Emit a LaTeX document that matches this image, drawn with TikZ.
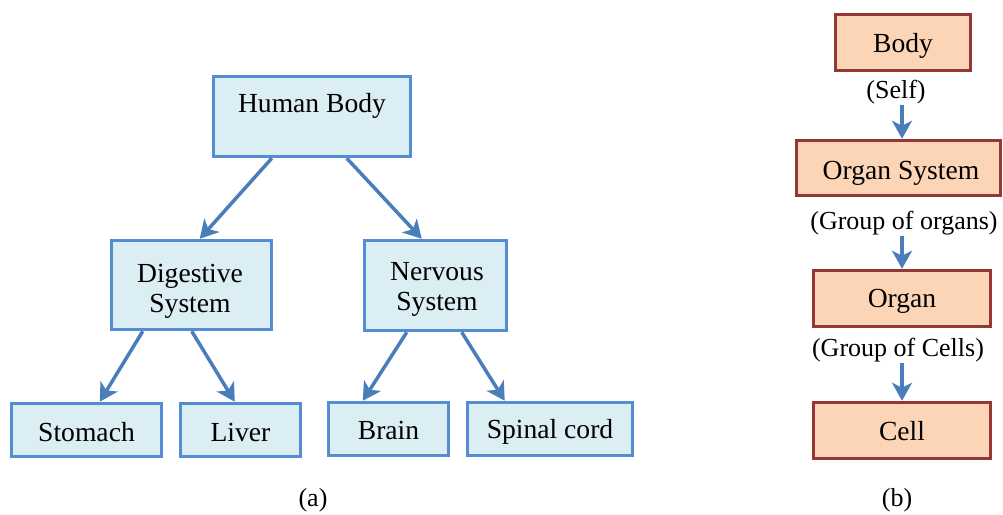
\documentclass[tikz,border=0pt]{standalone}
\usepackage{fontspec}
\setmainfont{Liberation Serif}
\usetikzlibrary{arrows.meta,calc}
\definecolor{lbline}{RGB}{84,141,212}
\definecolor{lbfill}{RGB}{219,238,244}
\definecolor{arrblue}{RGB}{74,126,187}
\definecolor{pkfill}{RGB}{251,213,181}
\definecolor{pkline}{RGB}{149,55,53}
\tikzset{
  bluebox/.style={draw=lbline, fill=lbfill, line width=3.5pt, inner sep=0pt},
  peachbox/.style={draw=pkline, fill=pkfill, line width=3.5pt, inner sep=0pt},
  txt/.style={inner sep=0pt, align=center, font=\fontsize{27.6}{30}\selectfont},
  note/.style={inner sep=0pt, font=\fontsize{26}{28}\selectfont},
  arr/.style={draw=arrblue, line width=3.5pt, -{Stealth[length=18pt,width=20pt,inset=5pt]}}
}
\begin{document}
\begin{tikzpicture}[x=1pt,y=-1pt]
\useasboundingbox (0,0) rectangle (1003,514);

% ---- (a) tree of the human body ----
\node[bluebox, minimum width=197pt, minimum height=80pt] (hb) at (312,116.5) {};
\node[txt] (hbt) at (312,106) {Human Body};

\node[bluebox, minimum width=160pt, minimum height=89pt] (ds) at (191.5,285) {};
\node[txt] (dst) at (190,291) {Digestive\\System};

\node[bluebox, minimum width=142pt, minimum height=90pt] (ns) at (435.5,285.5) {};
\node[txt] (nst) at (437,289) {Nervous\\System};

\node[bluebox, minimum width=150pt, minimum height=53pt] (st) at (86.5,430) {};
\node[txt] (stt) at (86.5,432) {Stomach};
\node[bluebox, minimum width=120pt, minimum height=53pt] (lv) at (240.5,430) {};
\node[txt] (lvt) at (240.5,432) {Liver};
\node[bluebox, minimum width=120pt, minimum height=53pt] (br) at (388.5,429) {};
\node[txt] (brt) at (388.5,430) {Brain};
\node[bluebox, minimum width=165pt, minimum height=53pt] (sc) at (550,429) {};
\node[txt] (sct) at (550,432) {Spinal cord};

\draw[arr] ($(hb.south west)+(60,0)$) -- ($(ds.north west)+(90,0)$);
\draw[arr] ($(hb.south west)+(135,0)$) -- ($(ns.north west)+(59,0)$);
\draw[arr] ($(ds.south west)+(33,0)$) -- ($(st.north west)+(90,0)$);
\draw[arr] ($(ds.south west)+(82,0)$) -- ($(lv.north west)+(56,0)$);
\draw[arr] ($(ns.south west)+(44,0)$) -- ($(br.north west)+(36,0)$);
\draw[arr] ($(ns.south west)+(99,0)$) -- ($(sc.north west)+(39,0)$);

\node[note] (capa) at (313,500) {(a)};

% ---- (b) levels of organisation ----
\node[peachbox, minimum width=135pt, minimum height=56pt] (body) at (903,42.5) {};
\node[txt] (bodyt) at (903,46) {Body};
\node[note] (self) at (896,92) {(Self)};

\node[peachbox, minimum width=204pt, minimum height=55pt] (os) at (898.5,168) {};
\node[txt] (ost) at (901,173) {Organ System};
\node[note] (grorg) at (904,223) {(Group of organs)};

\node[peachbox, minimum width=177pt, minimum height=56pt] (organ) at (902,298.5) {};
\node[txt] (organt) at (902,301) {Organ};
\node[note] (grcel) at (898,350) {(Group of Cells)};

\node[peachbox, minimum width=177pt, minimum height=56pt] (cell) at (902,430.5) {};
\node[txt] (cellt) at (902,431) {Cell};

\draw[arr, shorten <=1pt] (self.south -| organ.center) -- (os.north -| organ.center);
\draw[arr, shorten <=1pt] (grorg.south -| organ.center) -- (organ.north);
\draw[arr, shorten <=1pt] (grcel.south -| organ.center) -- (cell.north);

\node[note] (capb) at (897,500) {(b)};
\end{tikzpicture}
\end{document}
